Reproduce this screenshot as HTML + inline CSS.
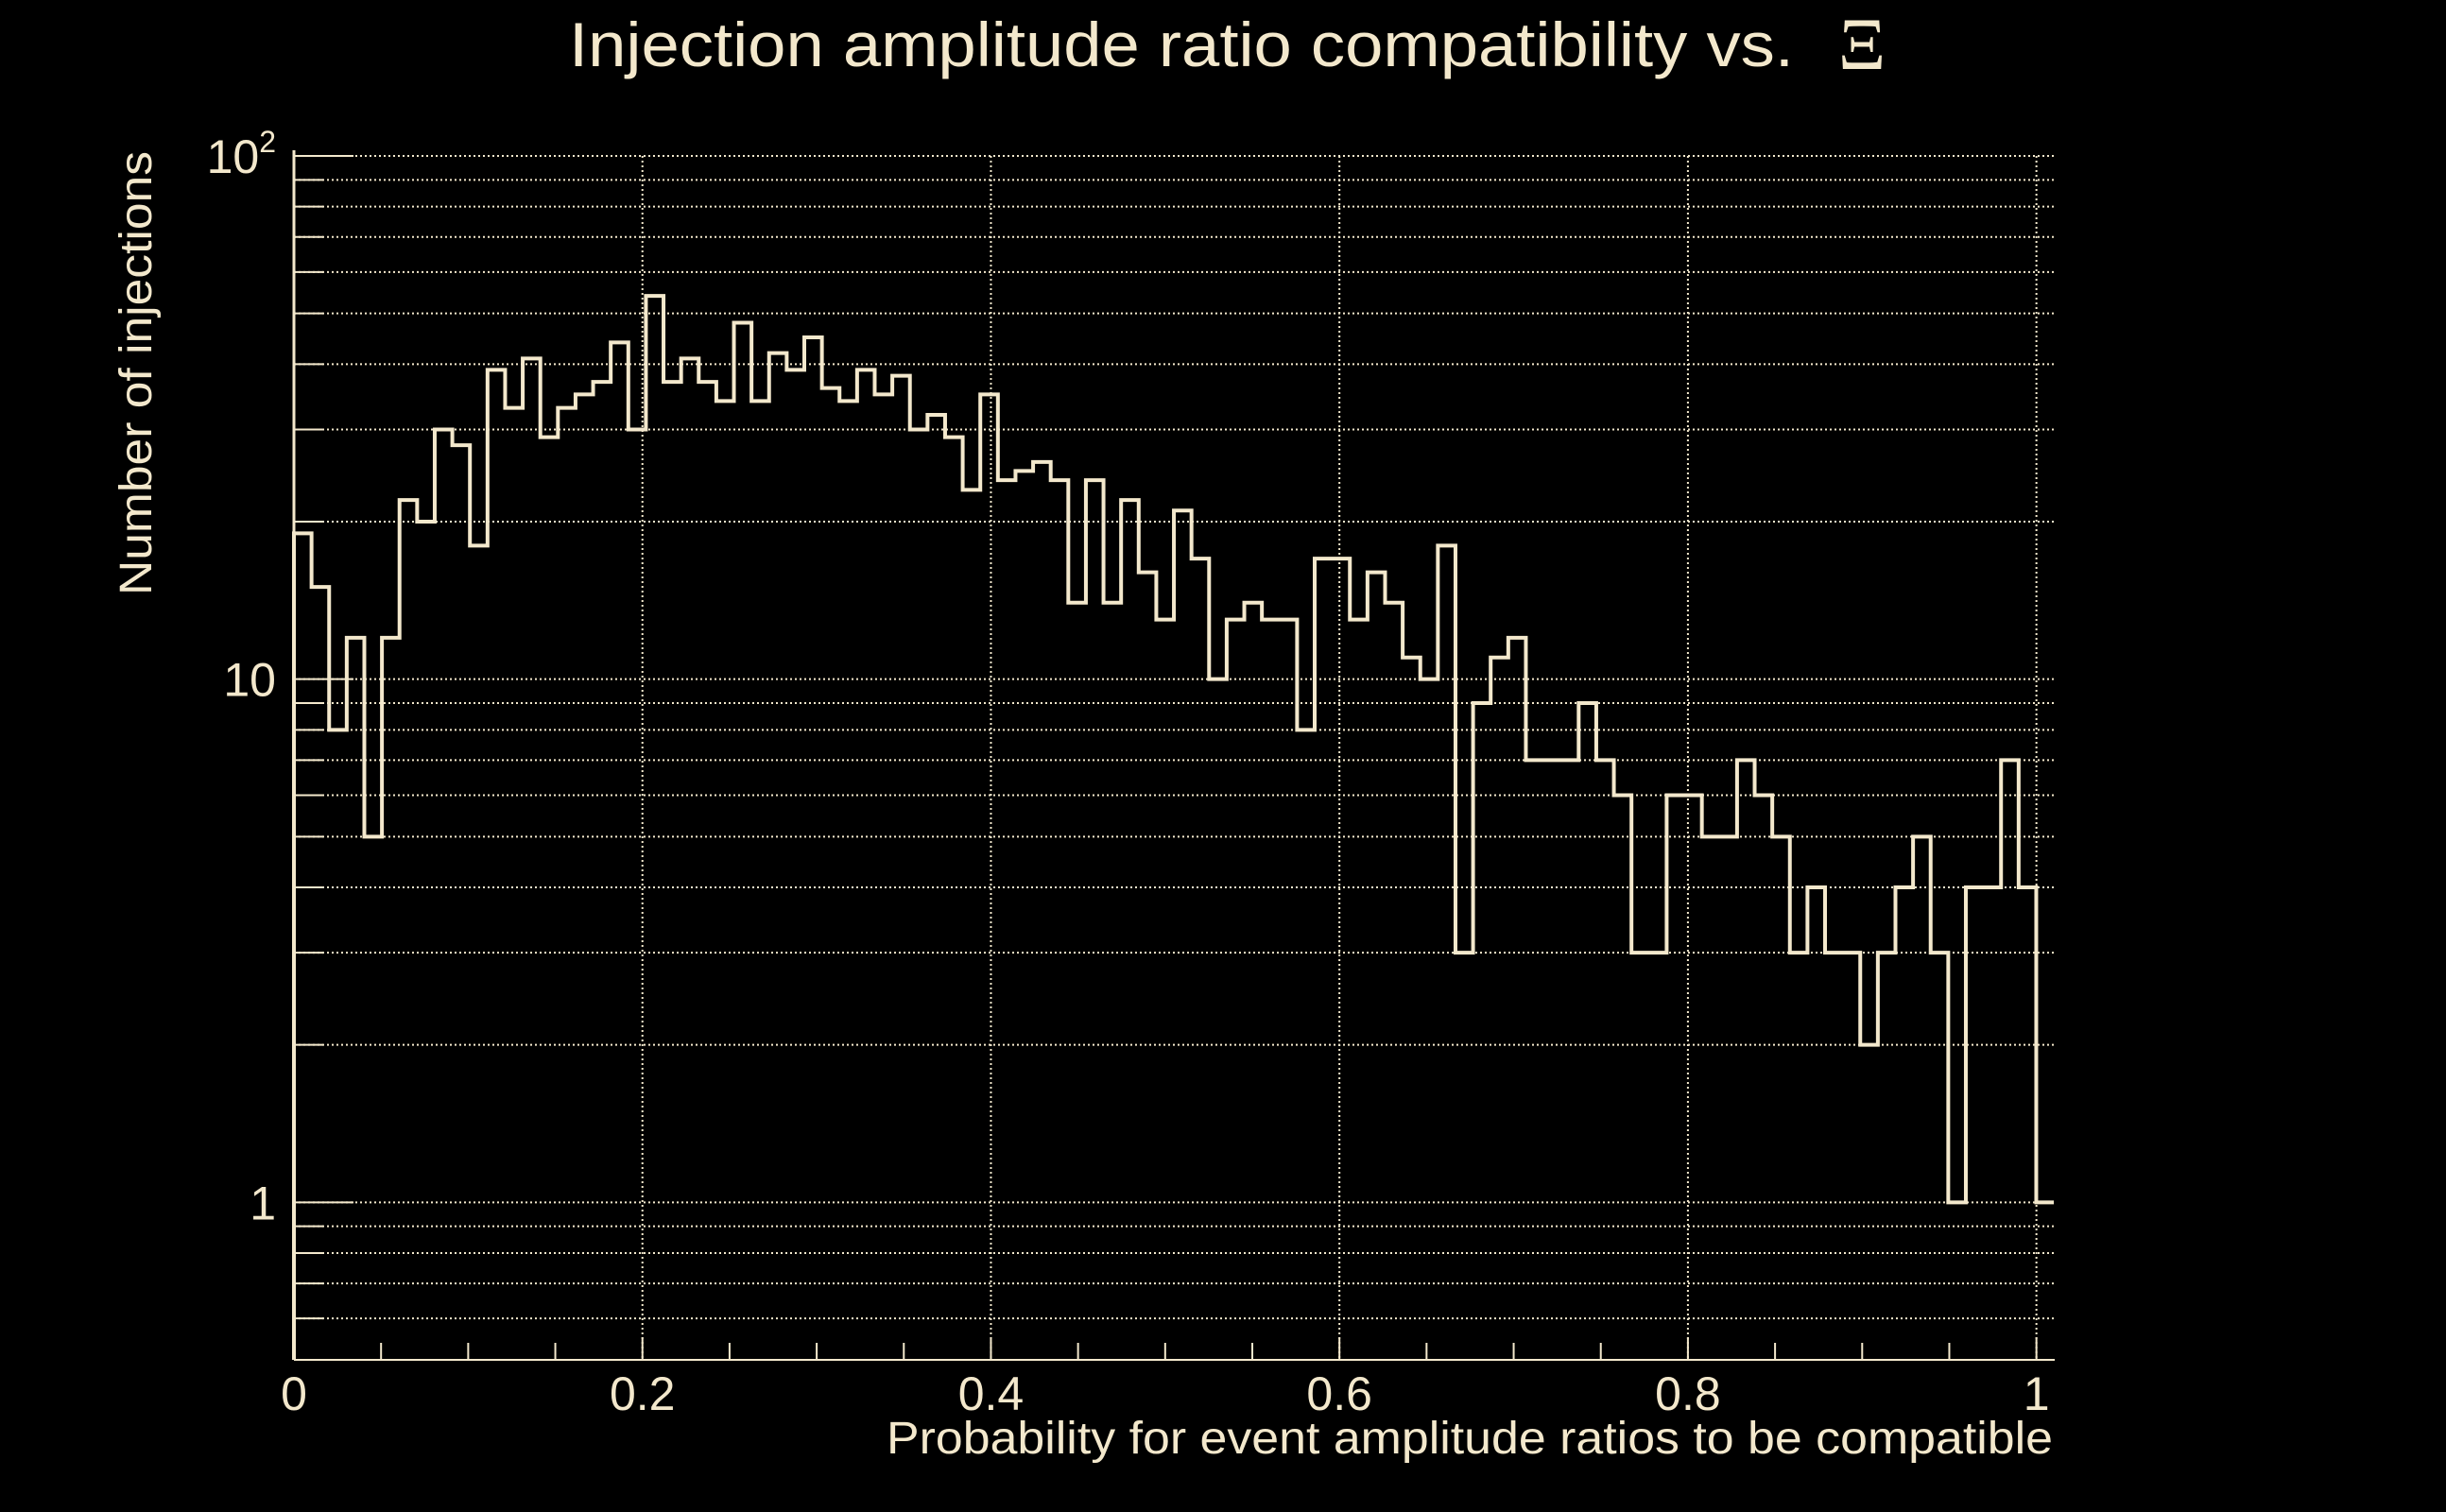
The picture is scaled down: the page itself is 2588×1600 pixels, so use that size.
<!DOCTYPE html>
<html><head><meta charset="utf-8"><style>
html,body{margin:0;padding:0;background:#000;}
svg{display:block;}
text{font-family:"Liberation Sans",sans-serif;fill:#f3e8cc;}
</style></head><body>
<svg id="chart" width="2588" height="1600" viewBox="0 0 2588 1600" xmlns="http://www.w3.org/2000/svg">
<rect x="0" y="0" width="2588" height="1600" fill="#000"/>
<text x="602" y="70" font-size="66" textLength="1296" lengthAdjust="spacingAndGlyphs">Injection amplitude ratio compatibility vs.</text>
<text x="1945" y="73" font-size="78" style="font-family:'Liberation Serif',serif">Ξ</text>
<text transform="translate(160,160) rotate(-90)" text-anchor="end" font-size="48" textLength="470" lengthAdjust="spacingAndGlyphs">Number of injections</text>
<text x="2172" y="1538" text-anchor="end" font-size="48" textLength="1234" lengthAdjust="spacingAndGlyphs">Probability for event amplitude ratios to be compatible</text>
<g id="grid"></g>
<g id="axes"></g>
<g id="marks"></g>
</svg>
<script>
const counts = [19,15,8,12,5,12,22,20,30,28,18,39,33,41,29,33,35,37,44,30,
54,37,41,37,34,48,34,42,39,45,36,34,39,35,38,30,32,29,23,35,
24,25,26,24,14,24,14,22,16,13,21,17,10,13,14,13,13,8,17,17,
13,16,14,11,10,18,3,9,11,12,7,7,7,9,7,6,3,3,6,6,
5,5,7,6,5,3,4,3,3,2,3,4,5,3,1,4,4,7,4,1];
const binStart = 0;
const binEnd = 1.01;
const xTickLabels = ["0","0.2","0.4","0.6","0.8","1"];
const xTickValues = [0,0.2,0.4,0.6,0.8,1];
const yMajorValues = [1,10,100];
const yMajorLabels = ["1","10","10²"];

const NS="http://www.w3.org/2000/svg";
const C="#f3e8cc";
const L=311, R=2174, T=165, B=1439;
const xMin=0, xMax=1.0105, yMin=0.5, yMax=100;
function xs(v){return L+(v-xMin)/(xMax-xMin)*(R-L);}
function ys(v){return B-(Math.log10(v)-Math.log10(yMin))/(Math.log10(yMax)-Math.log10(yMin))*(B-T);}
function mk(tag,attrs,parent){const e=document.createElementNS(NS,tag);for(const k in attrs)e.setAttribute(k,attrs[k]);parent.appendChild(e);return e;}
const grid=document.getElementById('grid'),axes=document.getElementById('axes'),marks=document.getElementById('marks');

const yGridVals=[];
for(let d=0.1;d<=100;d*=10){for(let m=1;m<=9;m++){const v=Math.round(m*d*1000)/1000;if(v>=yMin&&v<=yMax)yGridVals.push(v);}}
yGridVals.forEach(v=>{
  const y=ys(v);
  const g=mk('line',{x1:L,x2:R,y1:y,y2:y,stroke:C,'stroke-width':2,'stroke-dasharray':'2 3'},grid);
  
  
  const major=yMajorValues.indexOf(v)>=0;
  const t=mk('line',{x1:L,x2:L+(major?63:31),y1:y,y2:y,stroke:C,'stroke-width':2},axes);
  
  
});
yMajorValues.forEach((v,i)=>{
  const tx=mk('text',{x:292,y:ys(v)+18,'text-anchor':'end','font-size':50},axes);
  
  
  if(v===100){tx.textContent='10';const s=mk('tspan',{'font-size':32,dy:-22},tx);s.textContent='2';}
  else tx.textContent=yMajorLabels[i];
});
xTickValues.forEach((v,i)=>{
  const x=xs(v);
  if(v>0){const g=mk('line',{x1:x,x2:x,y1:T,y2:B,stroke:C,'stroke-width':2,'stroke-dasharray':'2 3'},grid);
  
  }
  const tx=mk('text',{x:x,y:1492,'text-anchor':'middle','font-size':50},axes);
  
  
  tx.textContent=xTickLabels[i];
});
for(let k=0;k<=20;k++){
  const v=k*0.05;const x=xs(v);
  const t=mk('line',{x1:x,x2:x,y1:B,y2:B-(k%4===0?24:18),stroke:C,'stroke-width':2},axes);
  
  
}
const ax=mk('line',{x1:L,x2:L,y1:T-6,y2:B,stroke:C,'stroke-width':3},axes);


const bx=mk('line',{x1:L,x2:R,y1:B,y2:B,stroke:C,'stroke-width':2},axes);



const n=counts.length, w=(binEnd-binStart)/n;
let d='M'+xs(binStart)+','+B;
counts.forEach((c,i)=>{d+=' V'+ys(c)+' H'+xs(binStart+(i+1)*w);});
const p=mk('path',{d:d,fill:'none',stroke:C,'stroke-width':4,'stroke-linejoin':'miter'},marks);


</script>
</body></html>
